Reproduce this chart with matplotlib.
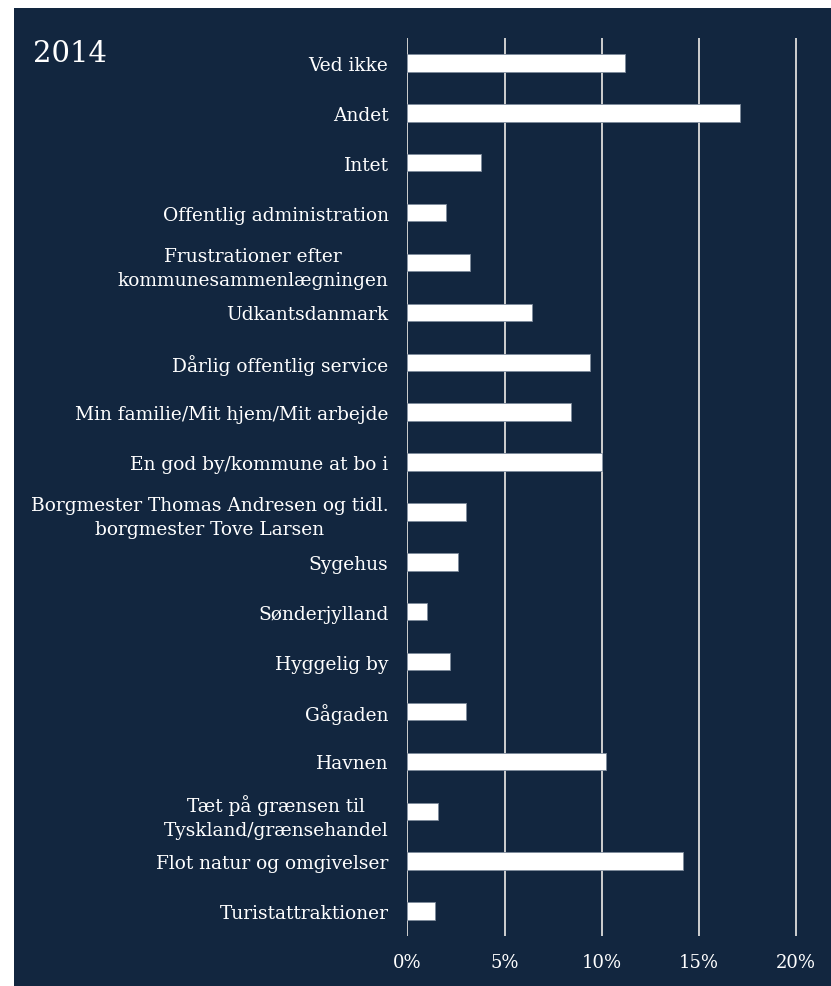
import matplotlib.pyplot as plt
from matplotlib.patches import Rectangle

# answers, top to bottom as shown
categories = [
    "Ved ikke",
    "Andet",
    "Intet",
    "Offentlig administration",
    "Frustrationer efter\nkommunesammenlægningen",
    "Udkantsdanmark",
    "Dårlig offentlig service",
    "Min familie/Mit hjem/Mit arbejde",
    "En god by/kommune at bo i",
    "Borgmester Thomas Andresen og tidl.\nborgmester Tove Larsen",
    "Sygehus",
    "Sønderjylland",
    "Hyggelig by",
    "Gågaden",
    "Havnen",
    "Tæt på grænsen til\nTyskland/grænsehandel",
    "Flot natur og omgivelser",
    "Turistattraktioner",
]
values = [11.2, 17.1, 3.8, 2.0, 3.2, 6.4, 9.4, 8.4, 10.0,
          3.0, 2.6, 1.0, 2.2, 3.0, 10.2, 1.6, 14.2, 1.4]
xticks = [0, 5, 10, 15, 20]
xtick_labels = ["0%", "5%", "10%", "15%", "20%"]
title = "2014"

navy = "#12263f"
W, H = 831, 987

plt.rcParams['font.family'] = ['DejaVu Serif']

fig = plt.figure(figsize=(W / 100, H / 100), dpi=100, facecolor="white")
# navy panel with a small white margin on top/left
fig.patches.append(Rectangle((14 / W, -0.01), 1.01 - 14 / W, 1.01 - 9 / H,
                             transform=fig.transFigure, facecolor=navy,
                             edgecolor="none", zorder=-5))

ax = fig.add_axes([407.3 / W, 50 / H, 418 / W, 898 / H])
ax.set_zorder(2)
ax.set_facecolor(navy)

ypos = list(range(len(categories)))
ax.barh(ypos, values, height=0.35, color="white", edgecolor="#7d8a9b",
        linewidth=0.6, zorder=3)

ax.set_ylim(len(categories) - 0.5, -0.5)
ax.set_xlim(0, 21.5)

for x in xticks:
    ax.axvline(x, color="#cfcfcf", linewidth=1.4, zorder=1)

ax.set_yticks(ypos)
ax.set_yticklabels(categories, fontsize=13.4, color="white")
for lab in ax.get_yticklabels():
    lab.set_multialignment("center")
    lab.set_linespacing(1.45)
ax.set_xticks(xticks)
ax.set_xticklabels(xtick_labels, fontsize=13, color="white")
ax.tick_params(axis="y", length=0, pad=13.5)
ax.tick_params(axis="x", length=0, pad=12.5)

for s in ax.spines.values():
    s.set_visible(False)

fig.text(33 / W, 1 - 62 / H, title, fontsize=21, color="white",
         va="baseline", ha="left", zorder=3)

fig.savefig("out.png", dpi=100, facecolor="white")
